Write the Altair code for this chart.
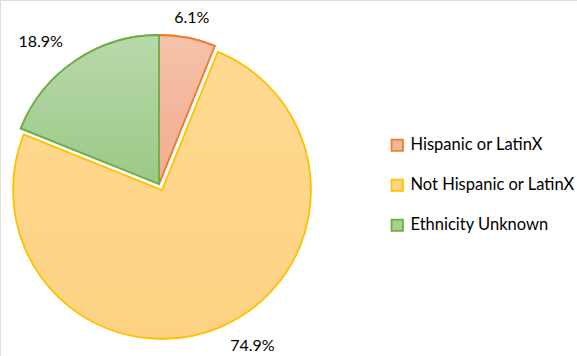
import altair as alt
import pandas as pd

categories = ["Hispanic or LatinX", "Not Hispanic or LatinX", "Ethnicity Unknown"]
values = [6.1, 74.9, 18.9]
labels = ["6.1%", "74.9%", "18.9%"]

fill_top = ["#F5C2A9", "#FEDA92", "#B9D9AB"]
fill_bottom = ["#F2AC8F", "#FDD282", "#9BC986"]
strokes = ["#ED7D31", "#FFC000", "#70AD47"]
fills_solid = ["#F4B69A", "#FDD68A", "#A9D18E"]

total = sum(values)
df = pd.DataFrame({"cat": categories, "value": values, "label": labels})

FONT = "Lato"
R = 149

base = alt.Chart(df).transform_window(
    idx="row_number()"
).transform_stack(
    stack="value", as_=["start", "end"], groupby=[], sort=[alt.SortField("idx")]
).transform_calculate(mid="(datum.start + datum.end) / 2")

theta_scale = alt.Scale(domain=[0, total], range=[0, 6.283185307])

centers = {
    "Hispanic or LatinX": (159, 184, 0, 3),
    "Not Hispanic or LatinX": (162, 190, 23, -2),
    "Ethnicity Unknown": (159, 184, -22, 1),
}

layers = []
legend_layer = base.transform_filter(alt.datum.cat != "Not Hispanic or LatinX").mark_arc(
    radius=R, strokeWidth=1.8
).encode(
    theta=alt.Theta("start:Q", scale=theta_scale),
    theta2="end:Q",
    x=alt.value(159),
    y=alt.value(184),
    fill=alt.Fill("cat:N", scale=alt.Scale(domain=categories, range=fills_solid),
                  sort=categories,
                  legend=alt.Legend(title=None, orient="none", legendX=389, legendY=137,
                                    symbolType="square", symbolSize=130, symbolStrokeWidth=1.8,
                                    labelFont=FONT, labelFontSize=16.5, labelColor="#000000",
                                    labelLimit=300, rowPadding=20, labelOffset=5)),
    stroke=alt.Stroke("cat:N", scale=alt.Scale(domain=categories, range=strokes), sort=categories),
)
layers.append(legend_layer)

for i, c in enumerate(categories):
    cx, cy, dx, dy = centers[c]
    grad = alt.Gradient(
        gradient="linear",
        stops=[alt.GradientStop(color=fill_top[i], offset=0),
               alt.GradientStop(color=fill_bottom[i], offset=1)],
        x1=0, x2=0, y1=0, y2=1,
    )
    sub = base.transform_filter(alt.datum.cat == c)
    arc = sub.mark_arc(radius=R, fill=grad, stroke=strokes[i], strokeWidth=1.8).encode(
        theta=alt.Theta("start:Q", scale=theta_scale),
        theta2="end:Q",
        x=alt.value(cx),
        y=alt.value(cy),
    )
    txt = sub.mark_text(font=FONT, fontSize=16, color="#000000", dx=dx, dy=dy).encode(
        theta=alt.Theta("mid:Q", scale=theta_scale),
        radius=alt.value(172),
        x=alt.value(cx),
        y=alt.value(cy),
        text="label:N",
    )
    layers.append(arc)
    layers.append(txt)

chart = alt.layer(*layers).properties(
    width=577, height=356, padding=0, autosize=alt.AutoSizeParams(type="none")
).configure_view(stroke=None, strokeWidth=0).configure(background="#FFFFFF")

chart.save("out.html", embed_options={"renderer": "svg", "actions": False})
